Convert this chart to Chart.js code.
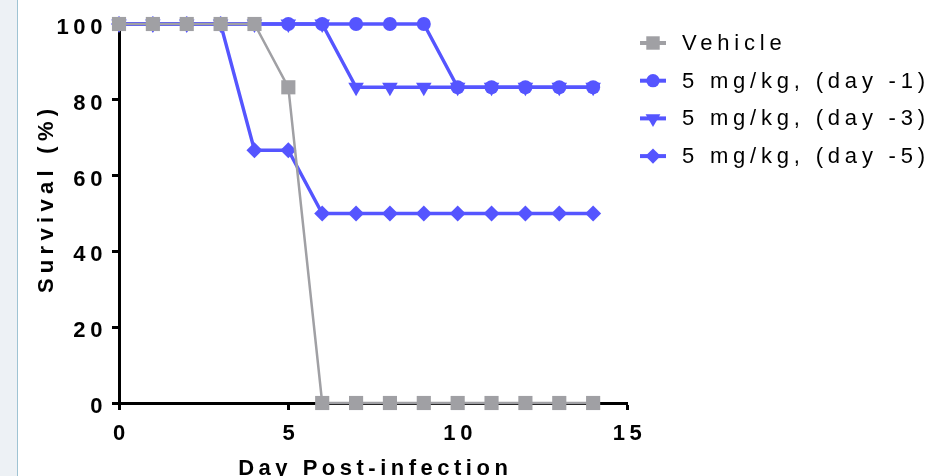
<!DOCTYPE html>
<html>
<head>
<meta charset="utf-8">
<script src="https://cdn.jsdelivr.net/npm/chart.js@4/dist/chart.umd.min.js"></script>
<style>
  html, body { margin: 0; padding: 0; }
  body {
    width: 926px; height: 476px; overflow: hidden;
    background: linear-gradient(to right, #edf1f5 0 17px, #9fc3d3 17px 18px, #ffffff 18px);
  }
  canvas { display: block; }
</style>
</head>
<body>
<canvas id="survivalChart" width="926" height="476"></canvas>
<script>
// survival data
const days = [0, 1, 2, 3, 4, 5, 6, 7, 8, 9, 10, 11, 12, 13, 14];
const vehicle = [100, 100, 100, 100, 100, 83.3, 0, 0, 0, 0, 0, 0, 0, 0, 0];
const day1 = [100, 100, 100, 100, 100, 100, 100, 100, 100, 100, 83.3, 83.3, 83.3, 83.3, 83.3];
const day3 = [100, 100, 100, 100, 100, 100, 100, 83.3, 83.3, 83.3, 83.3, 83.3, 83.3, 83.3, 83.3];
const day5 = [100, 100, 100, 100, 66.7, 66.7, 50, 50, 50, 50, 50, 50, 50, 50, 50];
const seriesLabels = ['Vehicle', '5 mg/kg, (day -1)', '5 mg/kg, (day -3)', '5 mg/kg, (day -5)'];
const xTicks = [0, 5, 10, 15];
const yTicks = [0, 20, 40, 60, 80, 100];

const BLUE = '#5555ff';
const GREY = '#a0a0a4';
const FONT = '"Liberation Sans", Arial, Helvetica, sans-serif';

function toPoints(values) {
    return values.map((v, i) => ({ x: days[i], y: v }));
}

function series(label, values, color, style, radius, rotation, width) {
    return {
        label: label,
        data: toPoints(values),
        borderColor: color,
        backgroundColor: color,
        pointBackgroundColor: color,
        pointBorderColor: color,
        pointBorderWidth: 0,
        pointStyle: style,
        pointRotation: rotation,
        pointRadius: radius,
        borderWidth: width,
        tension: 0,
        clip: false
    };
}

// letter spaced text, like the original figure
const spacingPlugin = {
    id: 'spacing',
    beforeDraw(chart) {
        chart.ctx.letterSpacing = '4.6px';
    }
};

function spacedWidth(ctx, text, sp) {
    return ctx.measureText(text).width - sp;
}

const titlesPlugin = {
    id: 'axisTitles',
    afterDraw(chart) {
        const ctx = chart.ctx;
        const area = chart.chartArea;
        ctx.save();
        ctx.letterSpacing = '4.5px';
        ctx.font = 'bold 22px ' + FONT;
        ctx.fillStyle = '#000';
        ctx.textAlign = 'left';
        ctx.textBaseline = 'alphabetic';
        const xt = 'Day Post-infection';
        const xw = spacedWidth(ctx, xt, 4.5);
        ctx.fillText(xt, (area.left + area.right) / 2 - xw / 2, 475);

        ctx.letterSpacing = '5.3px';
        const yt = 'Survival (%)';
        const yw = spacedWidth(ctx, yt, 5.3);
        ctx.translate(53, 201);
        ctx.rotate(-Math.PI / 2);
        ctx.fillText(yt, -yw / 2, 0);
        ctx.restore();
    }
};

const legendPlugin = {
    id: 'sideLegend',
    afterDraw(chart) {
        const ctx = chart.ctx;
        ctx.save();
        ctx.letterSpacing = '4.8px';
        ctx.font = '22px ' + FONT;
        ctx.textBaseline = 'middle';
        ctx.textAlign = 'left';
        chart.data.datasets.forEach((ds, i) => {
            const y = 43 + i * 37.7;
            ctx.strokeStyle = ds.borderColor;
            ctx.lineWidth = 4;
            ctx.beginPath();
            ctx.moveTo(640, y);
            ctx.lineTo(666, y);
            ctx.stroke();
            ctx.fillStyle = ds.pointBackgroundColor;
            ctx.strokeStyle = ds.pointBorderColor;
            Chart.helpers.drawPoint(ctx, {
                pointStyle: ds.pointStyle,
                rotation: ds.pointRotation,
                radius: ds.pointRadius * 0.95,
                borderWidth: 0
            }, 653, y);
            ctx.fillStyle = '#000';
            ctx.fillText(ds.label, 682, y + 1);
        });
        ctx.restore();
    }
};

const ctx = document.getElementById('survivalChart').getContext('2d');

new Chart(ctx, {
    type: 'line',
    data: {
        datasets: [
            series(seriesLabels[0], vehicle, GREY, 'rect', 10, 0, 2.5),
            series(seriesLabels[1], day1, BLUE, 'circle', 7, 0, 3.4),
            series(seriesLabels[2], day3, BLUE, 'triangle', 9, 180, 3.4),
            series(seriesLabels[3], day5, BLUE, 'rectRot', 8, 0, 3.4)
        ]
    },
    options: {
        responsive: false,
        animation: false,
        devicePixelRatio: 1,
        layout: { padding: { left: 0, right: 299, top: 24, bottom: 0 } },
        plugins: {
            legend: { display: false },
            tooltip: { enabled: false }
        },
        scales: {
            x: {
                type: 'linear',
                min: 0,
                max: 15,
                afterFit(scale) { scale.height = 73; },
                afterBuildTicks(scale) { scale.ticks = xTicks.map(v => ({ value: v })); },
                border: { display: true, color: '#000', width: 3 },
                grid: {
                    display: true,
                    drawOnChartArea: false,
                    drawTicks: true,
                    tickLength: 7,
                    tickWidth: 3,
                    tickColor: '#000'
                },
                ticks: {
                    color: '#000',
                    font: { family: FONT, size: 22, weight: 'bold' },
                    padding: 11,
                    labelOffset: 2.5,
                    maxRotation: 0
                }
            },
            y: {
                type: 'linear',
                min: 0,
                max: 100,
                afterFit(scale) { scale.width = 119; },
                afterBuildTicks(scale) { scale.ticks = yTicks.map(v => ({ value: v })); },
                border: { display: true, color: '#000', width: 3 },
                grid: {
                    display: true,
                    drawOnChartArea: false,
                    drawTicks: true,
                    tickLength: 7,
                    tickWidth: 3,
                    tickColor: '#000'
                },
                ticks: {
                    color: '#000',
                    font: { family: FONT, size: 22, weight: 'bold' },
                    padding: 5,
                    labelOffset: 4
                }
            }
        }
    },
    plugins: [spacingPlugin, titlesPlugin, legendPlugin]
});
</script>
</body>
</html>
